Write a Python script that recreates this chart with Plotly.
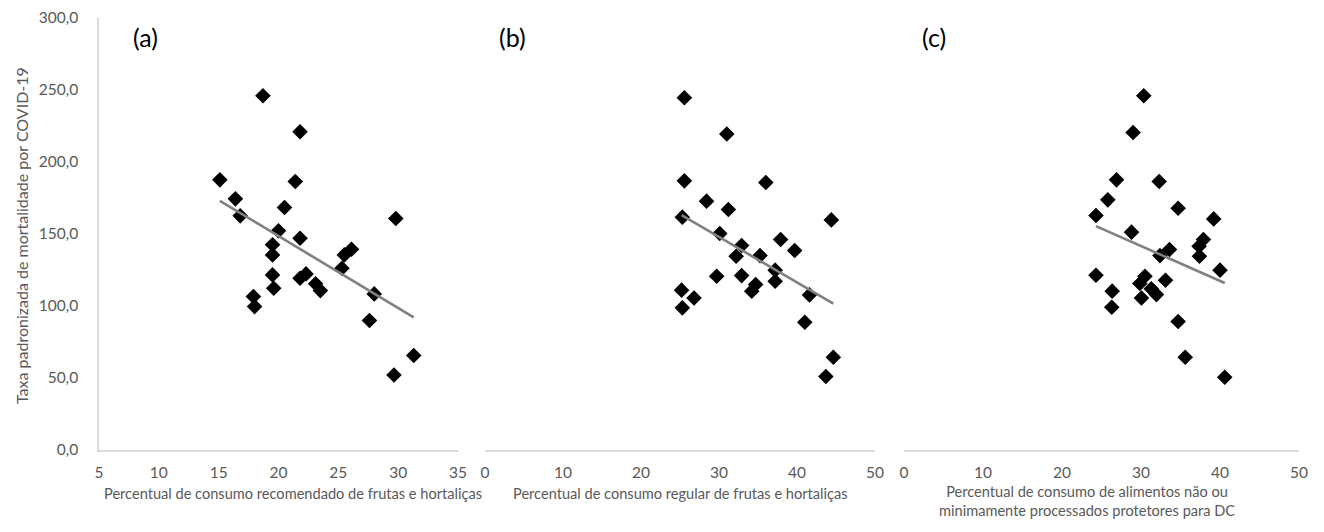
import numpy as np
import plotly.graph_objects as go

W, H = 1316, 524   # page body has an 8px margin; screenshot is 1324x532
OFF = 8

# Panel (a): recommended consumption of fruits & vegetables (%)
xa = [18.7, 21.8, 15.1, 21.4, 16.4, 20.5, 16.8, 29.8, 20.0, 21.8, 19.5, 19.5, 26.1, 25.5,
      25.3, 19.5, 21.8, 22.3, 23.1, 23.5, 19.6, 28.0, 17.9, 18.0, 27.6, 31.3, 29.65]
ya = [246, 221, 187.6, 186.5, 174.4, 168.4, 162.6, 160.8, 152.2, 147.1, 142.5, 135.5, 139.4, 135.5,
      126.2, 121.6, 119.3, 122.3, 115.4, 110.7, 112.3, 108.4, 106.6, 99.6, 89.9, 65.6, 52.1]

# Panel (b): regular consumption of fruits & vegetables (%)
xb = [25.56, 31.0, 25.56, 36.0, 28.4, 31.2, 25.3, 44.4, 30.1, 37.9, 39.7, 32.9, 32.2, 35.26,
      37.2, 37.2, 29.7, 32.9, 34.7, 34.2, 25.2, 26.8, 41.6, 25.3, 41.0, 44.66, 43.7]
yb = [244.6, 219.4, 186.9, 185.8, 172.8, 167, 161.7, 159.8, 150.3, 146.2, 138.5, 142, 134.6, 135,
      124.9, 117.2, 120.7, 121.1, 114.9, 110.3, 111, 105.6, 107.7, 98.7, 88.7, 64.4, 51]

# Panel (c): non/minimally processed protective foods (%)
xc = [30.35, 29.0, 26.9, 32.3, 25.8, 34.7, 24.3, 39.2, 28.8, 37.9, 37.35, 33.6, 32.4, 37.4,
      40.0, 24.3, 30.5, 33.1, 29.85, 31.3, 31.95, 30.06, 26.35, 26.3, 34.7, 35.6, 40.6]
yc = [246, 220.5, 187.6, 186.5, 173.7, 167.9, 162.8, 160.5, 151.3, 146.2, 141.5, 139.2, 135, 134.6,
      124.9, 121.4, 120.7, 117.9, 115.6, 111.9, 107.9, 105.6, 110.3, 99.1, 89.2, 64.4, 50.5]

y_ticks = [0, 50, 100, 150, 200, 250, 300]
y_tick_text = ["0,0", "50,0", "100,0", "150,0", "200,0", "250,0", "300,0"]

panel_labels = ["(a)", "(b)", "(c)"]
x_titles = ["Percentual de consumo recomendado de frutas e hortaliças",
            "Percentual de consumo regular de frutas e hortaliças",
            "Percentual de consumo de alimentos não ou<br>minimamente processados protetores para DC"]
y_title = "Taxa padronizada de mortalidade por COVID-19"

FONT = "Lato, Calibri, Carlito, sans-serif"
GRAY = "#595959"
AXIS = "#d9d9d9"


def px(x):
    return (x - OFF) / W


def py(y):
    return 1 - (y - OFF) / H


fig = go.Figure()

panels = [
    (xa, ya, "x", "y", (99, 458), (5, 35), 5),
    (xb, yb, "x2", "y2", (485, 875), (0, 50), 10),
    (xc, yc, "x3", "y3", (904, 1299), (0, 50), 10),
]

layout = {}
for i, (xs, ys, xr, yr, dom, rng, dt) in enumerate(panels):
    fig.add_trace(go.Scatter(x=xs, y=ys, mode="markers", xaxis=xr, yaxis=yr,
                             marker=dict(symbol="diamond", size=12, color="black"),
                             showlegend=False))
    k, b = np.polyfit(xs, ys, 1)
    lx = np.array([min(xs), max(xs)])
    fig.add_trace(go.Scatter(x=lx, y=k * lx + b, mode="lines", xaxis=xr, yaxis=yr,
                             line=dict(color="#808080", width=2.6), showlegend=False))
    sfx = "" if i == 0 else str(i + 1)
    layout["xaxis" + sfx] = dict(domain=[px(dom[0]), px(dom[1])], range=list(rng), dtick=dt,
                                 tick0=rng[0], showgrid=False, zeroline=False,
                                 showline=True, linecolor=AXIS, linewidth=1.5,
                                 ticks="", ticklabelstandoff=8,
                                 tickfont=dict(family=FONT, size=15.5, color=GRAY),
                                 anchor="y" + sfx, automargin=False)
    layout["yaxis" + sfx] = dict(domain=[py(450), py(18)], range=[0, 300],
                                 tickvals=y_ticks, ticktext=y_tick_text,
                                 showticklabels=(i == 0), showline=(i == 0),
                                 linecolor=AXIS, linewidth=1.5, showgrid=False,
                                 zeroline=False, ticks="", ticklabelstandoff=16,
                                 tickfont=dict(family=FONT, size=15.5, color=GRAY),
                                 anchor="x" + sfx, automargin=False)

annotations = []
label_pos = [(145, 37), (512, 37), (934, 37)]
for lab, (lx_, ly_) in zip(panel_labels, label_pos):
    annotations.append(dict(text=lab, x=px(lx_), y=py(ly_), xref="paper", yref="paper",
                            showarrow=False, xanchor="center", yanchor="middle",
                            font=dict(family=FONT, size=25, color="#000000")))

title_pos = [(293, 493), (680, 493), (1087, 501)]
for t, (tx, ty) in zip(x_titles, title_pos):
    annotations.append(dict(text=t, x=px(tx), y=py(ty), xref="paper", yref="paper",
                            showarrow=False, xanchor="center", yanchor="middle",
                            font=dict(family=FONT, size=14.6, color=GRAY)))

annotations.append(dict(text=y_title, x=px(22), y=py(236), xref="paper", yref="paper",
                        showarrow=False, textangle=-90, xanchor="center", yanchor="middle",
                        font=dict(family=FONT, size=16, color=GRAY)))

fig.update_layout(width=W, height=H, margin=dict(l=0, r=0, t=0, b=0),
                  paper_bgcolor="white", plot_bgcolor="white",
                  annotations=annotations, **layout)

fig.write_html("out.html")
